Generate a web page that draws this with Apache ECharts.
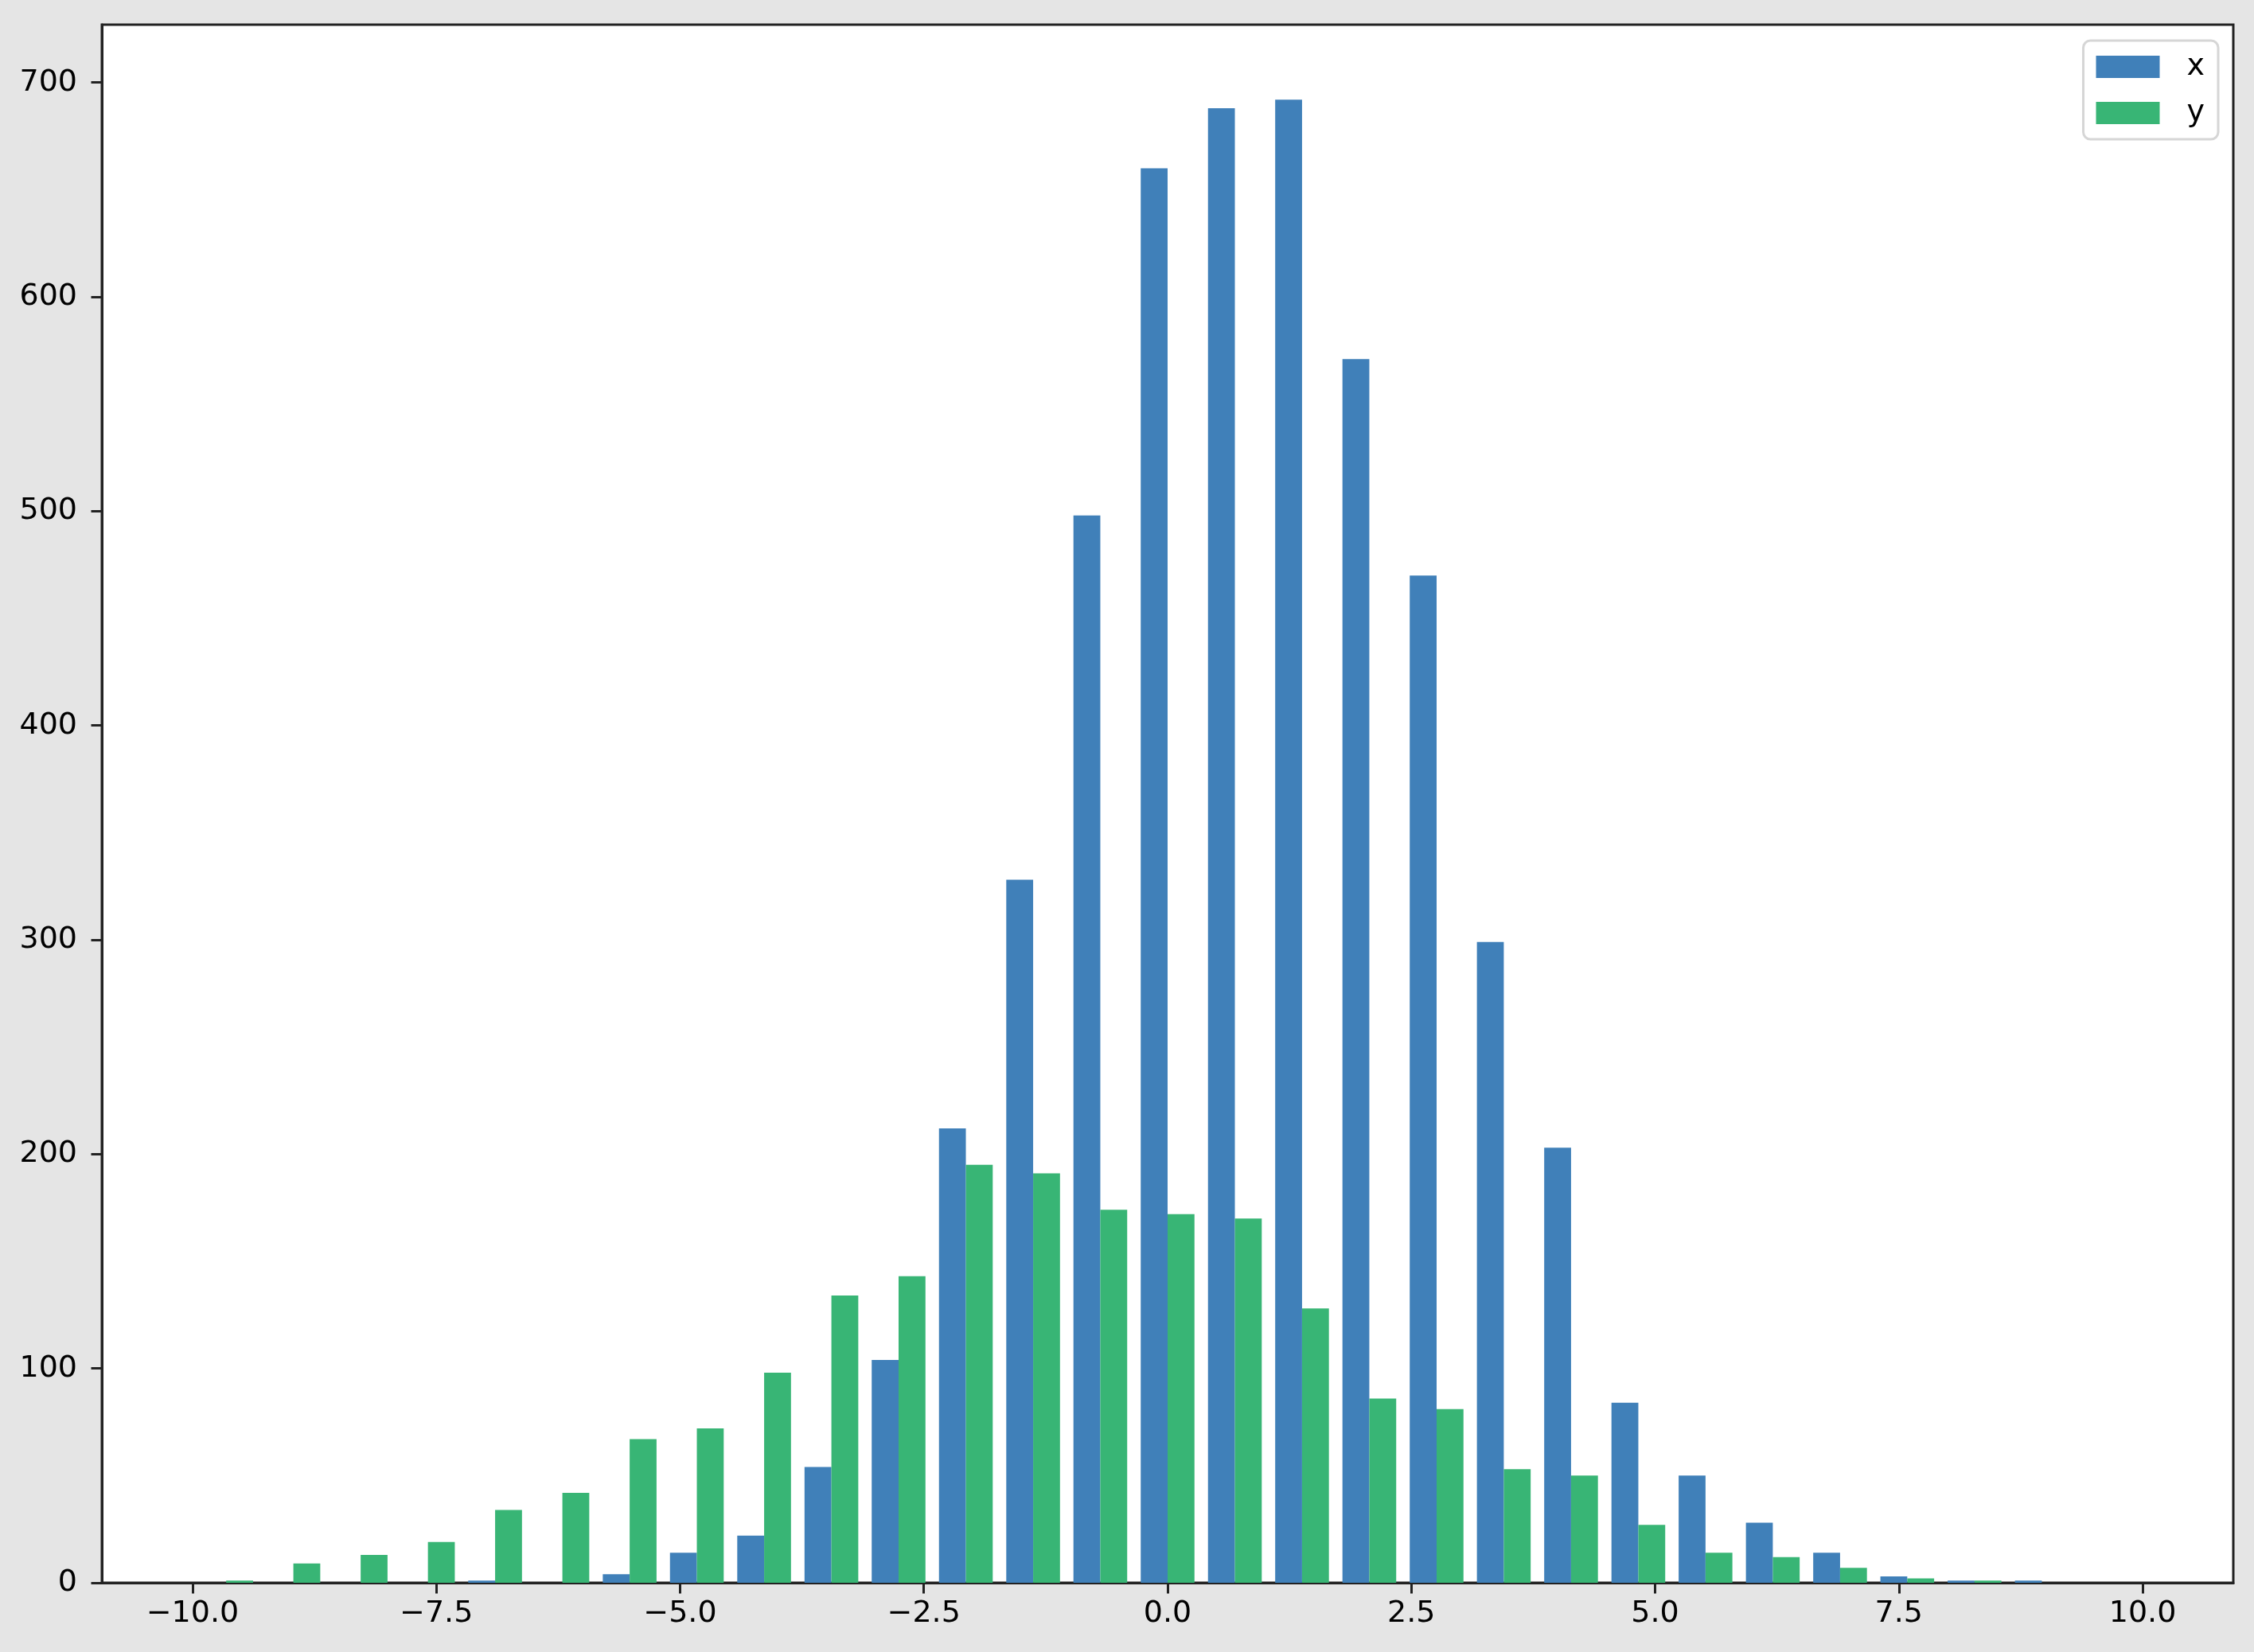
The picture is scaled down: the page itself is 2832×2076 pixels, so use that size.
<!DOCTYPE html>
<html><head><meta charset="utf-8">
<script src="https://cdn.jsdelivr.net/npm/echarts@6/dist/echarts.min.js"></script>
<style>html,body{margin:0;padding:0;background:#e5e5e5}#c{width:2832px;height:2076px}</style>
</head><body><div id="c"></div>
<script>
const binCenters = [-9.655,-8.966,-8.276,-7.586,-6.897,-6.207,-5.517,-4.828,-4.138,-3.448,-2.759,-2.069,-1.379,-0.690,0,0.690,1.379,2.069,2.759,3.448,4.138,4.828,5.517,6.207,6.897,7.586,8.276,8.966,9.655];
const xCounts = [0,0,0,0,1,0,4,14,22,54,104,212,328,498,660,688,692,571,470,299,203,84,50,28,14,3,1,1,0];
const yCounts = [1,9,13,19,34,42,67,72,98,134,143,195,191,174,172,170,128,86,81,53,50,27,14,12,7,2,1,0,0];
const xTicks = [-10,-7.5,-5,-2.5,0,2.5,5,7.5,10];
const yTicks = [0,100,200,300,400,500,600,700];
const seriesNames = ['x','y'];

const FONT = 'DejaVu Sans';
const AX = '#222';
const chart = echarts.init(document.getElementById('c'), null, {renderer:'canvas'});
const fmtX = v => (v < 0 ? '\u2212' : '') + Math.abs(v).toFixed(1);
chart.setOption({
  backgroundColor: '#e5e5e5',
  animation: false,
  grid: {left:128, right:26, top:31, bottom:87, show:true, backgroundColor:'#fff', borderColor:AX, borderWidth:3, containLabel:false},
  legend: {
    orient:'vertical', right:45, top:51, icon:'rect',
    itemWidth:80, itemHeight:28, itemGap:20,
    padding:[14,17,14,16],
    backgroundColor:'rgba(255,255,255,0.8)', borderColor:'#d6d6d6', borderWidth:3, borderRadius:9,
    textStyle:{fontFamily:FONT, fontSize:38, color:'#000', padding:[0,0,0,29]},
    data: seriesNames
  },
  xAxis: {
    type:'value', min:-10.93, max:10.93,
    axisLine:{show:true, onZero:false, lineStyle:{color:AX, width:3}},
    axisTick:{show:true, customValues:xTicks, length:13.5, lineStyle:{color:AX, width:3}},
    axisLabel:{customValues:xTicks, formatter:fmtX, margin:20, fontFamily:FONT, fontSize:38, color:'#000'},
    splitLine:{show:false}
  },
  yAxis: {
    type:'value', min:0, max:727,
    axisLine:{show:true, onZero:false, lineStyle:{color:AX, width:3}},
    axisTick:{show:true, customValues:yTicks, length:13.5, lineStyle:{color:AX, width:3}},
    axisLabel:{customValues:yTicks, margin:31, fontFamily:FONT, fontSize:38, color:'#000'},
    splitLine:{show:false}
  },
  series: [
    {name:seriesNames[0], type:'bar', barWidth:'40%', barGap:'0%', itemStyle:{color:'#4080B9'},
     data: binCenters.map((c,i)=>[c, xCounts[i]])},
    {name:seriesNames[1], type:'bar', barWidth:'40%', barGap:'0%', itemStyle:{color:'#38B575'},
     data: binCenters.map((c,i)=>[c, yCounts[i]])}
  ]
});
</script></body></html>
